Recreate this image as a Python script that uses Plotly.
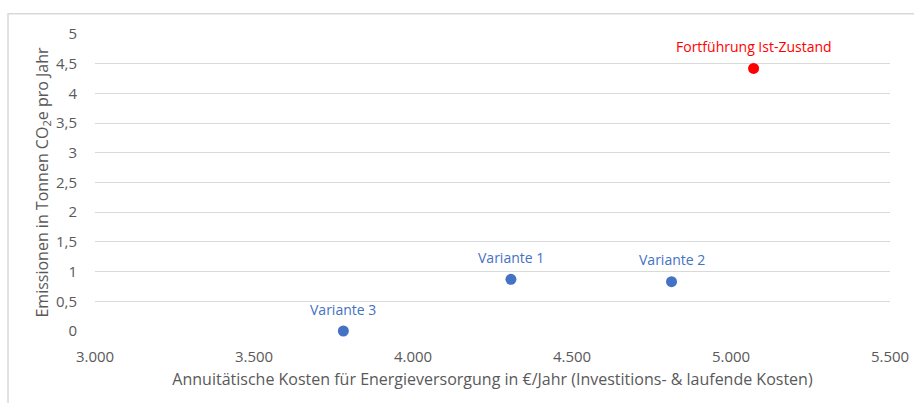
import plotly.graph_objects as go

# Scenario data: annual cost (€/year) vs. emissions (t CO2e/year)
variants = ["Variante 3", "Variante 1", "Variante 2"]
variant_costs = [3781, 4308, 4813]
variant_emissions = [0.0, 0.87, 0.83]

baseline_name = ["Fortführung Ist-Zustand"]
baseline_costs = [5071]
baseline_emissions = [4.42]

x_ticks = [3000, 3500, 4000, 4500, 5000, 5500]
x_tick_labels = ["3.000", "3.500", "4.000", "4.500", "5.000", "5.500"]
y_ticks = [0, 0.5, 1, 1.5, 2, 2.5, 3, 3.5, 4, 4.5, 5]
y_tick_labels = ["0", "0,5", "1", "1,5", "2", "2,5", "3", "3,5", "4", "4,5", "5"]

BLUE = "#4472C4"
RED = "#FF0000"
GRID = "#d9d9d9"
TEXT = "#595959"
FONT = "Open Sans, Liberation Sans, sans-serif"

fig = go.Figure()
fig.add_trace(go.Scatter(x=variant_costs, y=variant_emissions, mode="markers",
                         marker=dict(color=BLUE, size=11), cliponaxis=False,
                         hoverinfo="skip"))
fig.add_trace(go.Scatter(x=baseline_costs, y=baseline_emissions, mode="markers",
                         marker=dict(color=RED, size=11), cliponaxis=False,
                         hoverinfo="skip"))

# Point labels above each marker
for name, xv, yv in zip(variants, variant_costs, variant_emissions):
    fig.add_annotation(x=xv, y=yv, text=name, showarrow=False, yshift=22,
                       yanchor="middle", font=dict(color=BLUE, size=14, family=FONT))
for name, xv, yv in zip(baseline_name, baseline_costs, baseline_emissions):
    fig.add_annotation(x=xv, y=yv, text=name, showarrow=False, yshift=22,
                       yanchor="middle", font=dict(color=RED, size=14, family=FONT))

# Chart-area border (top and left edges visible)
fig.add_shape(type="rect", xref="paper", yref="paper",
              x0=-0.1094, x1=1.2, y0=-0.5, y1=1.0685,
              line=dict(color=GRID, width=1.5), layer="below")

fig.update_layout(
    width=914, height=403,
    margin=dict(l=95, r=24, t=34, b=72, autoexpand=False),
    paper_bgcolor="white", plot_bgcolor="white",
    showlegend=False,
    font=dict(family=FONT, color=TEXT, size=15),
    xaxis=dict(range=[3000, 5500], tickvals=x_ticks, ticktext=x_tick_labels,
               showgrid=False, zeroline=False, showline=False,
               ticks="outside", ticklen=12, tickcolor="rgba(0,0,0,0)",
               tickfont=dict(size=15, color=TEXT),
               title=dict(text="Annuitätische Kosten für Energieversorgung in €/Jahr (Investitions- & laufende Kosten)",
                          font=dict(size=16, color=TEXT), standoff=8)),
    yaxis=dict(range=[0, 5], tickvals=y_ticks, ticktext=y_tick_labels,
               showgrid=True, gridcolor=GRID, gridwidth=1, zeroline=False,
               showline=False, ticks="outside", ticklen=14,
               tickcolor="rgba(0,0,0,0)",
               tickfont=dict(size=15, color=TEXT),
               title=dict(text="Emissionen in Tonnen CO<sub>2</sub>e pro Jahr",
                          font=dict(size=16, color=TEXT), standoff=3)),
)

fig.write_html("out.html")
